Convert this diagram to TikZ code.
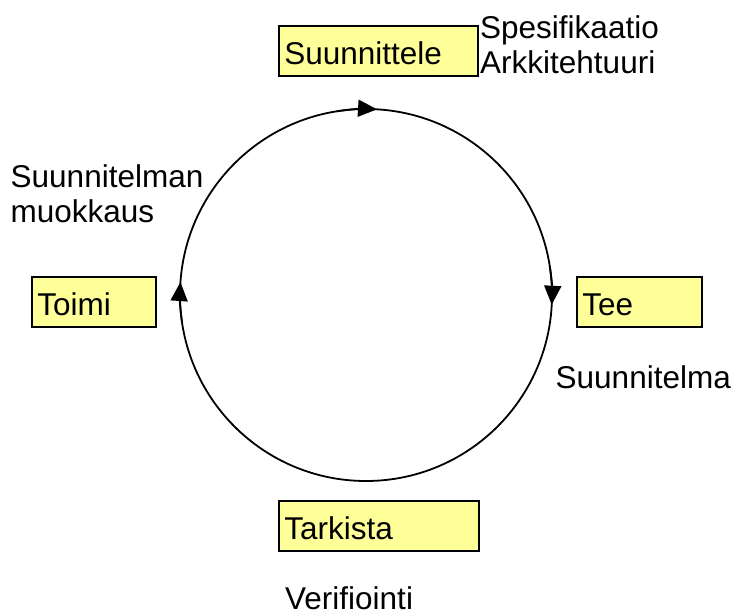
\documentclass[tikz,border=0pt]{standalone}
\usepackage{fontspec}
\setmainfont{Liberation Sans}
\usetikzlibrary{arrows.meta}
\definecolor{phaseyellow}{HTML}{FFFF99}
\begin{document}
\begin{tikzpicture}[x=1pt,y=-1pt,
  every node/.style={font=\fontsize{31.5}{35}\selectfont},
  phase/.style={draw=black, line width=1.5pt, fill=phaseyellow,
    anchor=north west, inner xsep=5.5pt, inner ysep=0pt,
    text height=39pt, text depth=11pt, minimum height=50pt, align=left},
  note/.style={anchor=base west, inner sep=0pt, align=left},
  ring/.style={line width=1.8pt},
  cycletip/.style={ring, -{Triangle[length=19pt,width=17pt]}}]
  \useasboundingbox (0,0) rectangle (736,614);

  % the cycle, running clockwise on the page
  \coordinate (hub) at (366,295);
  \draw[ring] (hub) circle[radius=186];
  % direction marks on the ring (angles grow clockwise since y points down)
  \draw[cycletip] ([shift={(-9:186)}]hub) arc[start angle=-9, end angle=3, radius=186];
  \draw[cycletip] ([shift={(172:186)}]hub) arc[start angle=172, end angle=184, radius=186];
  \draw[cycletip] ([shift={(261:186)}]hub) arc[start angle=261, end angle=273.4, radius=186];

  % phase boxes
  \node[phase, text width=188pt] (plan)  at (278,25)  {Suunnittele};
  \node[phase, text width=113pt] (act)   at (31,276)  {Toimi};
  \node[phase, text width=114pt] (do)    at (576,276) {Tee};
  \node[phase, text width=189pt] (check) at (278,500) {Tarkista};

  % outputs of each phase (base anchor sits on the last line)
  \node[note] (planout)  at (480,73)    {Spesifikaatio\\Arkkitehtuuri};
  \node[note] (actout)   at (10.5,222)  {Suunnitelman\\muokkaus};
  \node[note] (doout)    at (555.5,388) {Suunnitelma};
  \node[note] (checkout) at (285,609)   {Verifiointi};
\end{tikzpicture}
\end{document}
